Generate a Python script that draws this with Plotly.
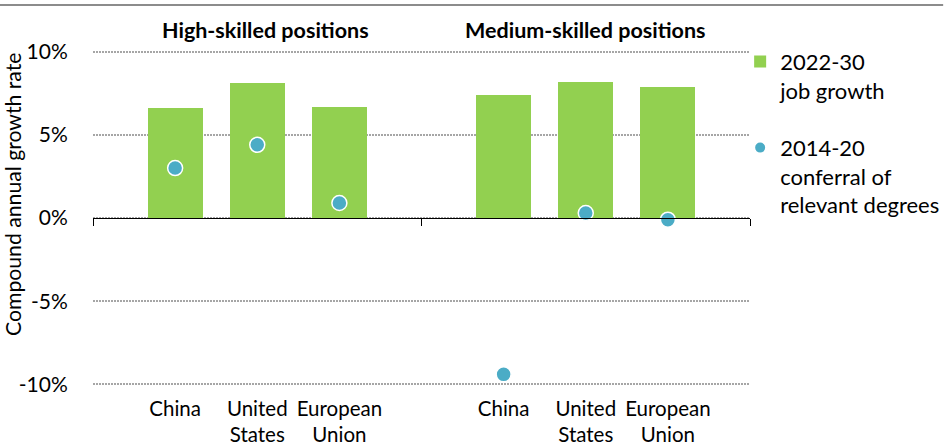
import plotly.graph_objects as go

# Category slots on a linear axis: 0, 4, 8 are group dividers
positions = [1, 2, 3, 5, 6, 7]
category_labels = ["China", "United<br>States", "European<br>Union",
                   "China", "United<br>States", "European<br>Union"]
group_titles = ["High-skilled positions", "Medium-skilled positions"]
group_title_pos = [2.1, 6.0]
divider_pos = [0, 4, 8]

job_growth = [6.6, 8.1, 6.7, 7.4, 8.2, 7.9]        # 2022-30 job growth, %
degree_growth = [3.0, 4.4, 0.9, -9.4, 0.3, -0.1]   # 2014-20 conferral of relevant degrees, %

y_ticks = [-10, -5, 0, 5, 10]
y_tick_text = ["-10%", "-5%", "0%", "5%", "10%"]
y_title = "Compound annual growth rate"

FONT = "Lato"
GREEN = "#92D050"
BLUE = "#4BACC6"

fig = go.Figure()
fig.add_trace(go.Bar(
    x=positions, y=job_growth, width=0.67,
    marker=dict(color=GREEN, line=dict(width=0)),
    name="2022-30<br>job growth", legendgroup="jobs",
))
fig.add_trace(go.Scatter(
    x=positions, y=degree_growth, mode="markers",
    marker=dict(color=BLUE, size=15, line=dict(color="white", width=1.5)),
    name="2014-20<br>conferral of<br>relevant degrees", legendgroup="degrees",
))

# invisible trace to carry the zero-line axis
fig.add_trace(go.Scatter(x=[0, 8], y=[0, 0], xaxis="x2", mode="lines",
                         line=dict(width=0), showlegend=False, hoverinfo="skip"))

for title, xpos in zip(group_titles, group_title_pos):
    fig.add_annotation(x=xpos, y=1, xref="x", yref="paper", yanchor="bottom",
                       yshift=5, text=f"<b>{title}</b>", showarrow=False,
                       font=dict(family=FONT, size=21.5, color="#000"))

# vertical axis title, sitting a little above the plot's middle
fig.add_annotation(x=-0.121, y=0.57, xref="paper", yref="paper",
                   xanchor="center", yanchor="middle", textangle=-90,
                   text=y_title, showarrow=False,
                   font=dict(family=FONT, size=21.2, color="#000"))

# rule across the top of the figure
fig.add_shape(type="line", xref="paper", yref="paper",
              x0=-0.1416, x1=1.294, y0=1.134, y1=1.134,
              line=dict(color="#8C8C8C", width=2))

fig.update_layout(
    width=947, height=445,
    margin=dict(l=93, r=197, t=50, b=59, autoexpand=False),
    plot_bgcolor="white", paper_bgcolor="white",
    font=dict(family=FONT, size=21, color="#000"),
    bargap=0,
    showlegend=True,
    legend=dict(x=0.985, xanchor="left", y=1.028, yanchor="top",
                valign="top", traceorder="grouped", tracegroupgap=26,
                font=dict(family=FONT, size=22, color="#000"),
                itemsizing="constant", bgcolor="rgba(0,0,0,0)"),
    xaxis=dict(range=[0, 8], tickvals=positions, ticktext=category_labels,
               showgrid=False, zeroline=False, showline=False,
               ticks="outside", ticklen=4, tickcolor="rgba(0,0,0,0)",
               automargin=False,
               tickfont=dict(family=FONT, size=20.5, color="#000")),
    xaxis2=dict(range=[0, 8], overlaying="x", anchor="free", position=0.5,
                side="bottom", showline=True, linecolor="#000", linewidth=1,
                ticks="outside", ticklen=7, tickcolor="#000", tickwidth=1,
                tickvals=divider_pos, showticklabels=False, showgrid=False,
                zeroline=False, automargin=False),
    yaxis=dict(range=[-10.1, 10.1], tickvals=y_ticks, ticktext=y_tick_text,
               showgrid=True, gridcolor="#A6A6A6", griddash="1.5px,1.5px",
               gridwidth=1.5, zeroline=False, showline=False, automargin=False,
               ticks="outside", ticklen=20, tickcolor="rgba(0,0,0,0)",
               tickfont=dict(family=FONT, size=21, color="#000")),
)

fig.write_html("out.html")
